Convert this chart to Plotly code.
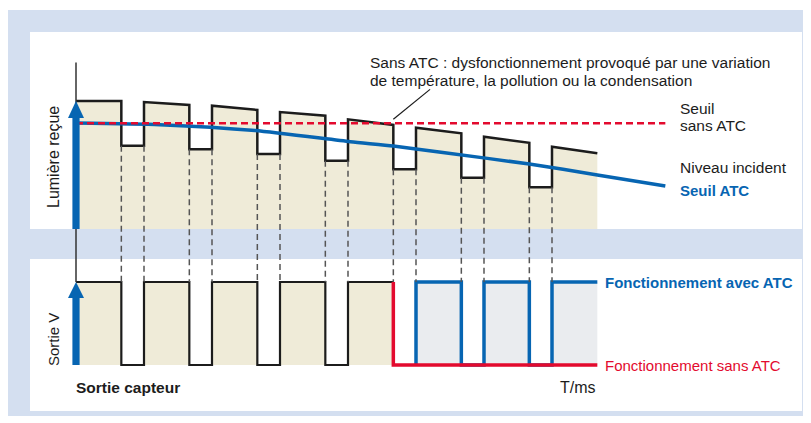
import plotly.graph_objects as go

# page body has an 8px margin: figure is drawn from screen (8, 8)
OFF = 8
W, H = 811 - OFF, 423 - OFF

# ---------------- data ----------------
# time (ms, arbitrary units) of falling / rising edges of the received light
t_fall = [2, 5, 8, 11, 14, 17, 20, 23]
t_rise = [3, 6, 9, 12, 15, 18, 21]
# received light level (relative units) at start / end of each high phase, and low phases
light_high_start = [100, 99.2, 96.3, 91.4, 85.7, 79.1, 72.1, 64.3]
light_high_end = [100, 96.9, 93.0, 88.5, 81.3, 74.8, 67.4, 59.1]
light_low = [65.1, 62.3, 58.6, 53.4, 46.6, 40.1, 32.6]
# fixed threshold (without ATC)
t_threshold = [0, 26]
threshold_fixed = [82.6, 82.6]
# incident level / ATC threshold
t_incident = [0, 3.7, 7.9, 12.1, 14, 16.1, 20, 23, 26]
incident_level = [82.8, 81.5, 76.9, 68.2, 64.8, 59.9, 50.8, 42.2, 33.6]
# sensor output without ATC (works until failure)
out_rise = [0, 3, 6, 9, 12]
out_fall = [2, 5, 8, 11, 14]
t_end = 23
# sensor output with ATC after the failure point
atc_rise = [15, 18, 21]
atc_fall = [17, 20, 23]

# ---------------- colours ----------------
BLUE = "#0765b2"
RED = "#e30a2e"
BEIGE = "#efebd8"
GREYFILL = "#eaecef"
BAND = "#d4dff0"
BLACK = "#1c1c1c"
DASHGREY = "#555555"
FONT = "Liberation Sans, Arial, sans-serif"

# ---------------- scales (screen pixels) ----------------
PX_PER_T = 68 / 3.0
X0 = 76 - OFF
xr = [(0 - X0) / PX_PER_T, (W - X0) / PX_PER_T]
TOP_BASE, TOP_K = 229 - OFF, 1.28
yr = [(TOP_BASE - H) / TOP_K, TOP_BASE / TOP_K]
BOT_BASE, BOT_K = 365 - OFF, 83.0
y2r = [(BOT_BASE - H) / BOT_K, BOT_BASE / BOT_K]


def y2_to_y(v2):
    f = (v2 - y2r[0]) / (y2r[1] - y2r[0])
    return yr[0] + f * (yr[1] - yr[0])


def pxx(x):
    return (x - OFF) / W


def pyy(y):
    return 1 - (y - OFF) / H


# ---------------- build paths from data ----------------
sx, sy = [], []
for i in range(len(t_fall)):
    start = 0 if i == 0 else t_rise[i - 1]
    sx += [start, t_fall[i]]
    sy += [light_high_start[i], light_high_end[i]]
    if i < len(t_rise):
        sx += [t_fall[i], t_rise[i]]
        sy += [light_low[i], light_low[i]]

ox, oy = [], []
for i, (r, f) in enumerate(zip(out_rise, out_fall)):
    if i > 0:
        ox += [r]
        oy += [0]
    ox += [r, f]
    oy += [1, 1]
    if i < len(out_rise) - 1:
        ox += [f]
        oy += [0]

ax_, ay_ = [], []
for r, f in zip(atc_rise, atc_fall):
    ax_ += [r, r, f, f]
    ay_ += [0, 1, 1, 0]
ax_, ay_ = ax_[:-1], ay_[:-1]

fig = go.Figure()

fig.add_trace(go.Scatter(x=sx, y=sy, mode="lines", fill="tozeroy", fillcolor=BEIGE,
                         line=dict(color=BLACK, width=2.5), hoverinfo="skip"))
fig.add_trace(go.Scatter(x=t_incident, y=incident_level, mode="lines",
                         line=dict(color=BLUE, width=3.5, shape="spline", smoothing=0.6),
                         hoverinfo="skip"))
fig.add_trace(go.Scatter(x=t_threshold, y=threshold_fixed, mode="lines",
                         line=dict(color=RED, width=2.5, dash="7px,4px"), hoverinfo="skip"))

fig.add_trace(go.Scatter(x=ox, y=oy, yaxis="y2", mode="lines", fill="tozeroy", fillcolor=BEIGE,
                         line=dict(color=BLACK, width=2.2), hoverinfo="skip"))
fig.add_trace(go.Scatter(x=ax_, y=ay_, yaxis="y2", mode="lines", fill="tozeroy", fillcolor=GREYFILL,
                         line=dict(color=BLUE, width=3.5), hoverinfo="skip"))
fig.add_trace(go.Scatter(x=[out_fall[-1], out_fall[-1], t_end], y=[1, 0, 0], yaxis="y2", mode="lines",
                         line=dict(color=RED, width=3.5), hoverinfo="skip"))

shapes = []
# backgrounds
shapes.append(dict(type="rect", xref="paper", yref="paper", x0=pxx(7), x1=pxx(811), y0=pyy(416), y1=pyy(10),
                   fillcolor=BAND, line=dict(width=0), layer="below"))
shapes.append(dict(type="rect", xref="paper", yref="paper", x0=pxx(30), x1=pxx(802), y0=pyy(229), y1=pyy(32),
                   fillcolor="white", line=dict(width=0), layer="below"))
shapes.append(dict(type="rect", xref="paper", yref="paper", x0=pxx(30), x1=pxx(802), y0=pyy(411), y1=pyy(259),
                   fillcolor="white", line=dict(width=0), layer="below"))

# vertical axis line
shapes.append(dict(type="line", xref="x", yref="y", x0=0, x1=0, y0=y2_to_y(1), y1=130,
                   line=dict(color="#333333", width=1.5), layer="above"))

# dashed projection lines
y_bot_high = y2_to_y(1)
for i in range(len(t_rise)):
    for t in (t_fall[i], t_rise[i]):
        shapes.append(dict(type="line", xref="x", yref="y", x0=t, x1=t, y0=light_low[i], y1=y_bot_high,
                           line=dict(color=DASHGREY, width=1.5, dash="6px,4px"), layer="above"))

# leader line of the annotation
shapes.append(dict(type="line", xref="x", yref="y", x0=t_fall[4], y0=light_high_end[4] + 4.5,
                   x1=t_fall[4] + 1.62, y1=light_high_end[4] + 27.8,
                   line=dict(color=BLACK, width=1.2), layer="above"))

# arrows on the vertical axes
hw = 8 / PX_PER_T
sw = 3.6 / PX_PER_T
top_tip = light_high_start[0]
top_head = 17 / TOP_K
shapes.append(dict(type="rect", xref="x", yref="y", x0=-sw, x1=sw, y0=0, y1=top_tip - top_head + 1,
                   fillcolor=BLUE, line=dict(width=0), layer="above"))
shapes.append(dict(type="path", xref="x", yref="y",
                   path=f"M {-hw},{top_tip - top_head} L {hw},{top_tip - top_head} L 0,{top_tip} Z",
                   fillcolor=BLUE, line=dict(width=0), layer="above"))
bot_head = 16 / BOT_K
shapes.append(dict(type="rect", xref="x", yref="y2", x0=-sw, x1=sw, y0=0, y1=1 - bot_head + 0.01,
                   fillcolor=BLUE, line=dict(width=0), layer="above"))
shapes.append(dict(type="path", xref="x", yref="y2",
                   path=f"M {-hw},{1 - bot_head} L {hw},{1 - bot_head} L 0,1 Z",
                   fillcolor=BLUE, line=dict(width=0), layer="above"))

ann = []


def label(text, x, y, size=15, color=BLACK, bold=False, xanchor="left", angle=0):
    ann.append(dict(text=f"<b>{text}</b>" if bold else text, x=pxx(x), y=pyy(y), xref="paper", yref="paper",
                    xanchor=xanchor, yanchor="middle", showarrow=False, textangle=angle,
                    font=dict(family=FONT, size=size, color=color)))


label("Sans ATC : dysfonctionnement provoqué par une variation", 368, 63, size=15.5)
label("de température, la pollution ou la condensation", 368, 80, size=15.5)
label("Seuil", 678, 108, size=15.5)
label("sans ATC", 678, 125, size=15.5)
label("Niveau incident", 678, 167, size=15.5)
label("Seuil ATC", 678, 190, size=15, color=BLUE, bold=True)
label("Fonctionnement avec ATC", 603, 282, size=15, color=BLUE, bold=True)
label("Fonctionnement sans ATC", 603, 365, size=15, color=RED)
label("Sortie capteur", 74, 387, size=15.5, bold=True)
label("T/ms", 598, 387, size=16, xanchor="right")
label("Lumière reçue", 53, 157, size=16, xanchor="center", angle=-90)
label("Sortie V", 53, 340, size=15, xanchor="center", angle=-90)

fig.update_layout(
    width=W, height=H, margin=dict(l=0, r=0, t=0, b=0),
    paper_bgcolor="white", plot_bgcolor="rgba(0,0,0,0)", showlegend=False,
    xaxis=dict(range=xr, visible=False, domain=[0, 1], fixedrange=True),
    yaxis=dict(range=yr, visible=False, domain=[0, 1], fixedrange=True),
    yaxis2=dict(range=y2r, visible=False, overlaying="y", fixedrange=True),
    shapes=shapes, annotations=ann,
)

fig.write_html("out.html")
